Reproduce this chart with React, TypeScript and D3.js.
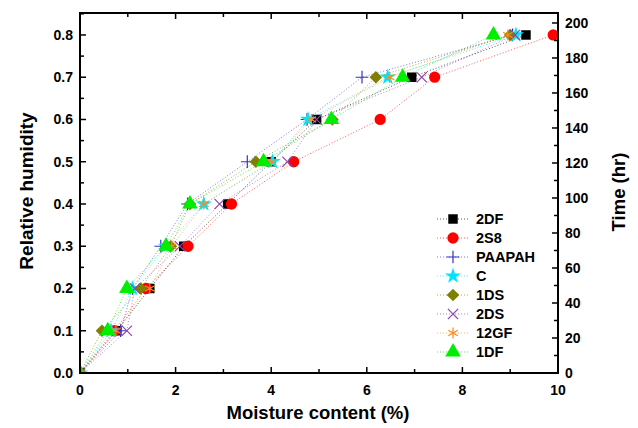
import React, { useEffect, useRef } from "react";
import * as d3 from "d3";

// relative humidity levels (y) and moisture content (x) for each sample
const rhLevels = [0, 0.1, 0.2, 0.3, 0.4, 0.5, 0.6, 0.7, 0.8];
const seriesNames = ["2DF", "2S8", "PAAPAH", "C", "1DS", "2DS", "12GF", "1DF"];
const mc2DF = [0, 0.77, 1.46, 2.17, 3.09, 4.0, 4.95, 6.94, 9.33];
const mc2S8 = [0, 0.72, 1.38, 2.26, 3.17, 4.47, 6.28, 7.42, 9.9];
const mcPAAPAH = [0, 0.85, 1.1, 1.69, 2.25, 3.5, 4.75, 5.9, 9.05];
const mcC = [0, 0.65, 1.1, 1.8, 2.59, 4.03, 4.77, 6.44, 9.12];
const mc1DS = [0, 0.46, 1.27, 1.9, 2.3, 3.68, 5.28, 6.19, 9.0];
const mc2DS = [0, 0.98, 1.15, 2.09, 2.92, 4.34, 4.95, 7.15, 9.1];
const mc12GF = [0, 0.75, 1.46, 1.92, 2.59, 4.0, 4.84, 6.48, 8.95];
const mc1DF = [0, 0.58, 0.98, 1.8, 2.3, 3.84, 5.26, 6.75, 8.65];

const xTicks = [0, 2, 4, 6, 8, 10];
const yTicks = [0, 0.1, 0.2, 0.3, 0.4, 0.5, 0.6, 0.7, 0.8];
const timeTicks = [0, 20, 40, 60, 80, 100, 120, 140, 160, 180, 200];

const allSeries = [mc2DF, mc2S8, mcPAAPAH, mcC, mc1DS, mc2DS, mc12GF, mc1DF];
const colors = ["#000000", "#ff0000", "#3333cc", "#00e5ff", "#7f7f00", "#8e44ad", "#ff8c1a", "#00ee00"];
const symbols = [
  { type: d3.symbolSquare, size: 90, fill: true, rot: 0 },
  { type: d3.symbolCircle, size: 100, fill: true, rot: 0 },
  { type: d3.symbolPlus, size: 55, fill: false, rot: 0 },
  { type: d3.symbolStar, size: 80, fill: true, rot: 0 },
  { type: d3.symbolSquare, size: 80, fill: true, rot: 45 },
  { type: d3.symbolTimes, size: 70, fill: false, rot: 0 },
  { type: d3.symbolAsterisk, size: 85, fill: false, rot: 0 },
  { type: d3.symbolTriangle, size: 105, fill: true, rot: 0 },
];

const App = () => {
  const ref = useRef<SVGSVGElement>(null);

  useEffect(() => {
    const svg = d3.select(ref.current);
    svg.selectAll("*").remove();

    const left = 80, right = 558, top = 13, bottom = 373;
    const x = d3.scaleLinear().domain([0, 10]).range([left, right]);
    const y = d3.scaleLinear().domain([0, 0.852]).range([bottom, top]);
    const yt = d3.scaleLinear().domain([0, 205.7]).range([bottom, top]);
    const font = "'Liberation Sans', Arial, sans-serif";

    svg.append("defs").append("clipPath").attr("id", "plotclip")
      .append("rect").attr("x", left).attr("y", top)
      .attr("width", right - left).attr("height", bottom - top);

    const g = svg.append("g");
    const plot = g.append("g").attr("clip-path", "url(#plotclip)");

    // lines
    allSeries.forEach((vals, i) => {
      const pts = vals.map((v, j) => [v, rhLevels[j]] as [number, number]);
      plot.append("path")
        .attr("d", d3.line().x((d) => x(d[0])).y((d) => y(d[1]))(pts))
        .attr("fill", "none")
        .attr("stroke", colors[i])
        .attr("stroke-width", 1)
        .attr("stroke-dasharray", "1,2")
        .attr("opacity", 0.65);
    });

    const marker = (sel: any, i: number, px: number, py: number) => {
      const s = symbols[i];
      sel.append("path")
        .attr("d", d3.symbol().type(s.type).size(s.size)())
        .attr("transform", `translate(${px},${py}) rotate(${s.rot})`)
        .attr("fill", s.fill ? colors[i] : "none")
        .attr("stroke", colors[i])
        .attr("stroke-width", s.fill ? 0 : 1.2);
    };

    // markers
    allSeries.forEach((vals, i) => {
      vals.forEach((v, j) => marker(plot, i, x(v), y(rhLevels[j])));
    });

    // frame
    g.append("rect")
      .attr("x", left).attr("y", top)
      .attr("width", right - left).attr("height", bottom - top)
      .attr("fill", "none").attr("stroke", "#000").attr("stroke-width", 2);

    const tick = (x1: number, y1: number, x2: number, y2: number) =>
      g.append("line").attr("x1", x1).attr("y1", y1).attr("x2", x2).attr("y2", y2)
        .attr("stroke", "#000").attr("stroke-width", 1.5);

    // x ticks (inward, top and bottom)
    d3.range(0, 10.01, 1).forEach((v) => {
      const len = v % 2 === 0 ? 6 : 4;
      tick(x(v), bottom, x(v), bottom - len);
      tick(x(v), top, x(v), top + len);
    });
    xTicks.forEach((v) => {
      g.append("text").attr("x", x(v)).attr("y", bottom + 22)
        .attr("text-anchor", "middle").attr("font-family", font)
        .attr("font-weight", "bold").attr("font-size", 14).text(v);
    });

    // left ticks
    d3.range(0, 0.851, 0.05).forEach((v, i) => {
      tick(left, y(v), left + (i % 2 === 0 ? 6 : 4), y(v));
    });
    yTicks.forEach((v) => {
      g.append("text").attr("x", left - 7).attr("y", y(v) + 5)
        .attr("text-anchor", "end").attr("font-family", font)
        .attr("font-weight", "bold").attr("font-size", 14).text(v.toFixed(1));
    });

    // right ticks
    d3.range(0, 201, 10).forEach((v, i) => {
      tick(right, yt(v), right - (i % 2 === 0 ? 6 : 4), yt(v));
    });
    timeTicks.forEach((v) => {
      g.append("text").attr("x", right + 7).attr("y", yt(v) + 5)
        .attr("text-anchor", "start").attr("font-family", font)
        .attr("font-weight", "bold").attr("font-size", 14).text(v);
    });

    // axis titles
    g.append("text").attr("x", 318).attr("y", 419)
      .attr("text-anchor", "middle").attr("font-family", font)
      .attr("font-weight", "bold").attr("font-size", 18.5).text("Moisture content (%)");
    g.append("text").attr("transform", `translate(33,191) rotate(-90)`)
      .attr("text-anchor", "middle").attr("font-family", font)
      .attr("font-weight", "bold").attr("font-size", 19).text("Relative humidity");
    g.append("text").attr("transform", `translate(625,192) rotate(-90)`)
      .attr("text-anchor", "middle").attr("font-family", font)
      .attr("font-weight", "bold").attr("font-size", 18.5).text("Time (hr)");

    // legend
    seriesNames.forEach((name, i) => {
      const ly = 219 + i * 19;
      g.append("line").attr("x1", 437).attr("x2", 470).attr("y1", ly).attr("y2", ly)
        .attr("stroke", colors[i]).attr("stroke-width", 1)
        .attr("stroke-dasharray", "1,2").attr("opacity", 0.65);
      marker(g, i, 453, ly);
      g.append("text").attr("x", 476).attr("y", ly + 5)
        .attr("font-family", font).attr("font-weight", "bold")
        .attr("font-size", 14.5).text(name);
    });
  }, []);

  return (
    <svg ref={ref} width={638} height={428}
      style={{ position: "absolute", left: 0, top: 0, background: "#fff" }} />
  );
};

export default App;
